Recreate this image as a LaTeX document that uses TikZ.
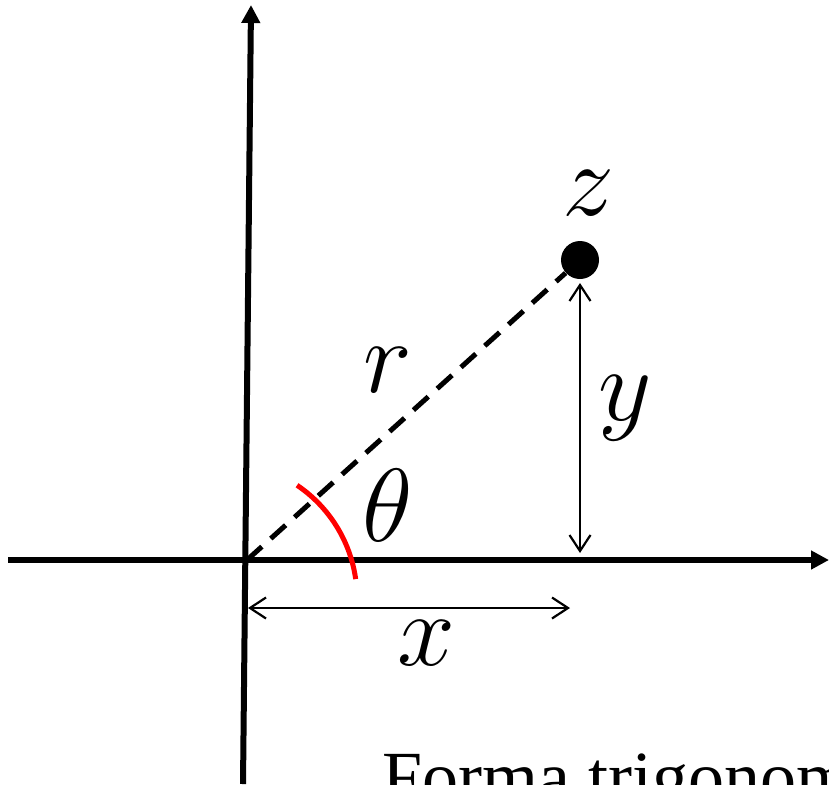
\RequirePackage{fix-cm}
\documentclass[tikz,border=0pt]{standalone}
\usepackage{fontspec}
\setmainfont{Liberation Serif}
\usetikzlibrary{arrows.meta,positioning,calc}
\tikzset{
  axis/.style   = {line width=3pt, -{Triangle[length=9pt,width=9pt]}},
  dim/.style    = {line width=1.1pt, {Straight Barb[length=8pt,width=10.5pt]}-{Straight Barb[length=8pt,width=10.5pt]}},
  modulus/.style= {line width=2.5pt, dash pattern=on 10pt off 6pt},
  angarc/.style = {line width=2.5pt, red},
  pt/.style     = {circle, fill=black, inner sep=0pt, minimum size=19pt},
  lbl/.style    = {font=\fontsize{52}{60}\selectfont, inner sep=0pt, anchor=base},
  caption/.style= {font=\fontsize{36}{44}\selectfont, inner sep=0pt, anchor=base west}
}
\begin{document}
\begin{tikzpicture}[x=0.5pt,y=0.5pt]
  \useasboundingbox (0,0) rectangle (829,784);
  % axes
  \coordinate (xl) at (8,224);
  \coordinate (xr) at (829,224);
  \coordinate (yb) at (243,0);
  \coordinate (yt) at (251,779);
  \coordinate (O) at (247,224);
  \draw[axis] (xl) -- (xr);
  \draw[axis] (yb) -- (yt);
  % point z
  \node[pt] (z) at (580,524) {};
  \draw[modulus] (O) -- (z);
  \coordinate (ac) at (221,186);
  \draw[angarc] ([shift={(56:136)}]ac) arc[start angle=56, end angle=8, radius=136];
  % dimensions
  \coordinate (ytop) at (580,501);
  \coordinate (ybot) at (580,231);
  \draw[dim] (ytop) -- (ybot);
  \coordinate (xa) at (248,176);
  \coordinate (xb) at (570,176);
  \draw[dim] (xa) -- (xb);
  % labels
  \node[lbl] (zl) at (588,569) {$z$};
  \node[lbl] (rl) at (388,392) {$r$};
  \node[lbl] (tl) at (388,243) {$\theta$};
  \node[lbl] (yl) at (625,364) {$y$};
  \node[lbl] (xlbl) at (426,119) {$x$};
  \node[caption] (cap) at (382,-17) {Forma trigonométrica};
\end{tikzpicture}
\end{document}
